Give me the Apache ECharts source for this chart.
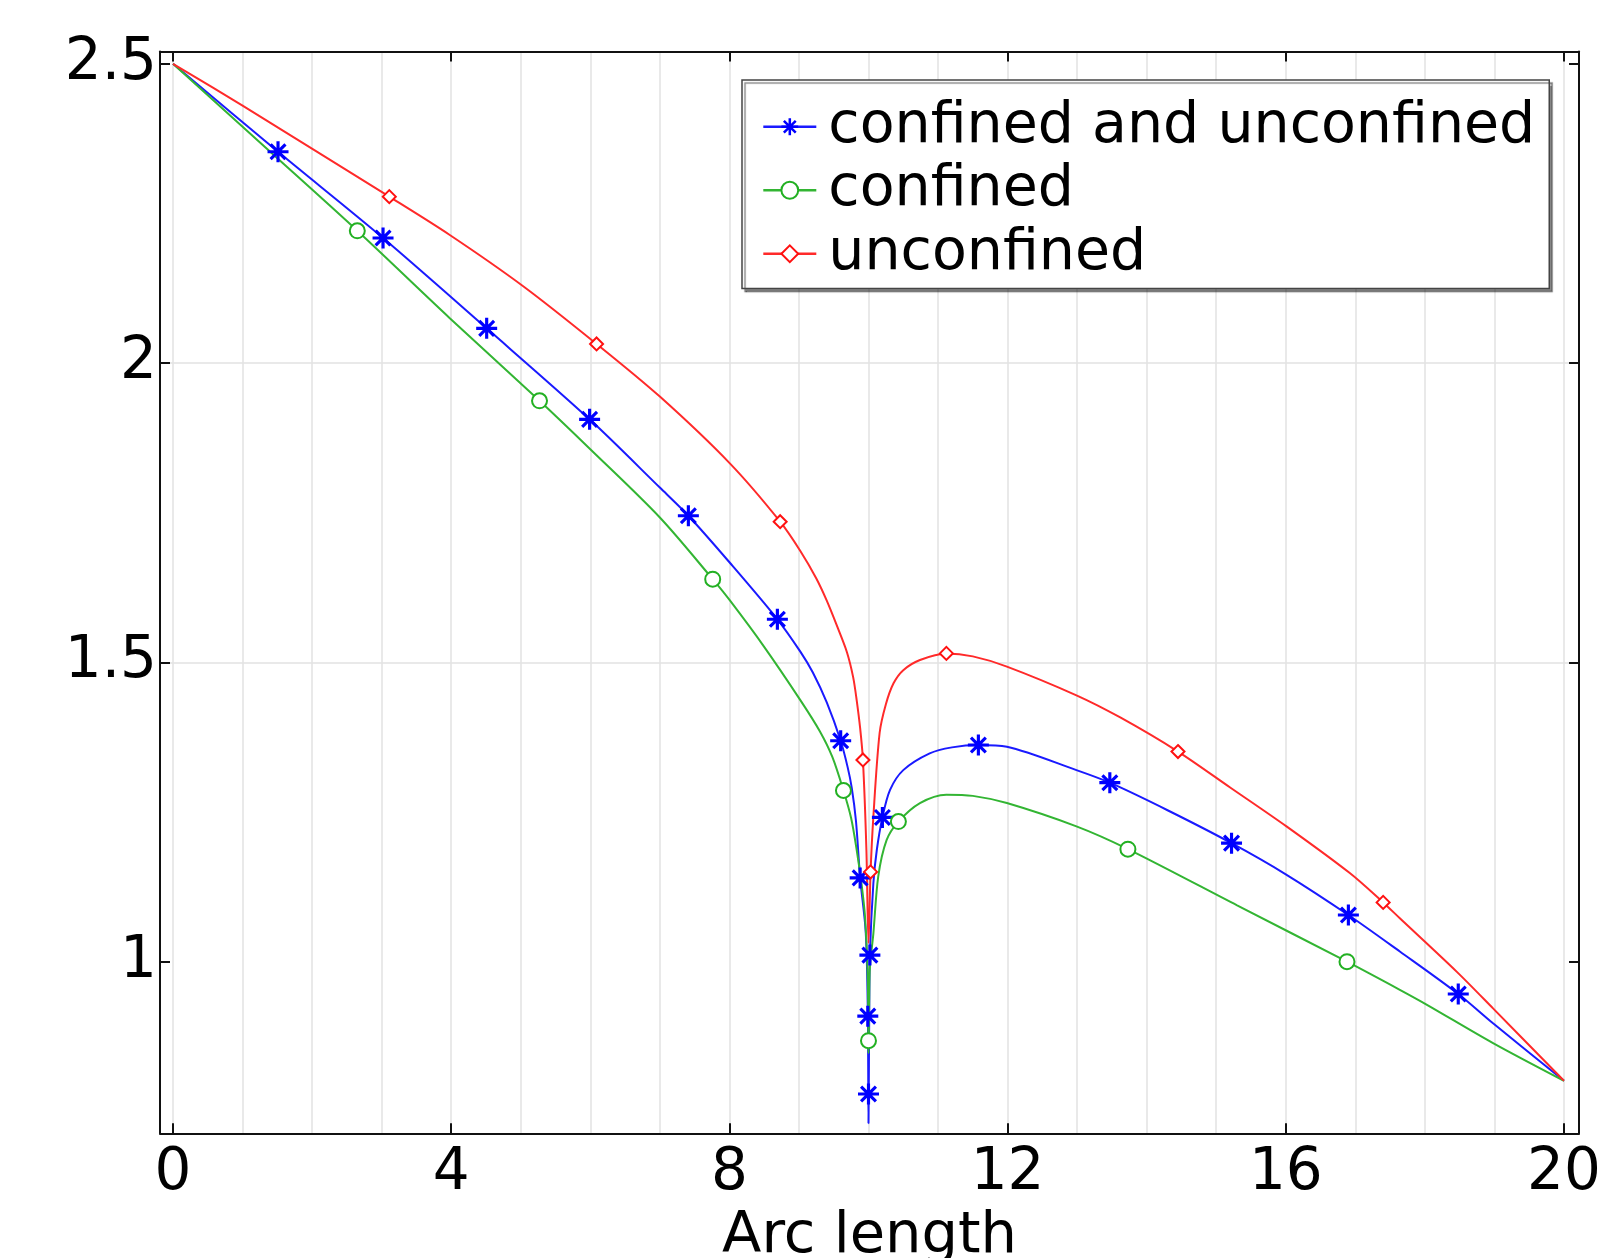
<!DOCTYPE html>
<html>
<head>
<meta charset="utf-8">
<script src="https://cdn.jsdelivr.net/npm/echarts@6/dist/echarts.min.js"></script>
<style>
  html, body { margin: 0; padding: 0; background: #fff; }
  #chart { width: 1621px; height: 1258px; }
</style>
</head>
<body>
<div id="chart"></div>
<script>
// axis ranges (frame is a bit wider than the data)
var X_MIN = -0.187, X_MAX = 20.216;
var Y_MIN = 0.7133, Y_MAX = 2.5205;
var xTicks = [0, 4, 8, 12, 16, 20];
var yTicks = [1, 1.5, 2, 2.5];

var names = ['confined and unconfined', 'confined', 'unconfined'];

// curves
var blueX = [0, 1.51, 3.02, 4.51, 5.99, 7.0, 7.41, 8.01, 8.69, 9.02, 9.20, 9.40, 9.60, 9.70, 9.76, 9.82, 9.88, 9.96, 9.99, 10.0, 10.01, 10.02,
  10.07, 10.12, 10.20, 10.31, 10.50, 10.88, 11.20, 11.58, 11.99, 12.99, 13.47, 14.3, 15.22, 16.0, 16.90, 17.64, 18.48, 18.98, 20];
var blueY = [2.5, 2.353, 2.209, 2.058, 1.906, 1.792, 1.745, 1.666, 1.572, 1.518, 1.483, 1.433, 1.369, 1.325, 1.29, 1.235, 1.140, 1.05, 0.92, 0.73, 0.90, 1.011,
  1.131, 1.187, 1.241, 1.287, 1.320, 1.348, 1.358, 1.362, 1.359, 1.32, 1.299, 1.253, 1.198, 1.146, 1.078, 1.017, 0.946, 0.897, 0.801];

var greenX = [0, 1.33, 2.65, 3.98, 5.27, 6.0, 7.0, 7.76, 8.01, 8.5, 9.02, 9.30, 9.48, 9.64, 9.75, 9.83, 9.90, 9.95, 9.99, 10.0, 10.01, 10.02, 10.07,
  10.14, 10.26, 10.43, 10.74, 11.12, 11.5, 11.99, 12.99, 13.73, 15.3, 16.88, 17.64, 18.03, 18.98, 20];
var greenY = [2.5, 2.36, 2.221, 2.075, 1.937, 1.856, 1.742, 1.639, 1.603, 1.526, 1.437, 1.385, 1.342, 1.286, 1.24, 1.187, 1.13, 1.075, 0.97, 0.847, 0.93, 0.99, 1.047,
  1.142, 1.203, 1.234, 1.265, 1.279, 1.277, 1.265, 1.226, 1.188, 1.094, 1.000, 0.953, 0.928, 0.864, 0.801];

var redX = [0, 1.0, 3.11, 3.98, 5.04, 6.09, 7.0, 8.01, 8.73, 9.02, 9.25, 9.40, 9.55, 9.69, 9.78, 9.83, 9.88, 9.92, 9.97, 10.0, 10.03, 10.07, 10.16,
  10.25, 10.36, 10.5, 10.74, 11.12, 11.5, 11.99, 12.99, 13.62, 14.45, 15.2, 16.01, 16.92, 17.40, 17.64, 18.46, 18.98, 20];
var redY = [2.5, 2.43, 2.278, 2.214, 2.128, 2.032, 1.944, 1.832, 1.735, 1.686, 1.64, 1.603, 1.56, 1.517, 1.475, 1.437, 1.39, 1.337, 1.187, 1.031, 1.150, 1.242, 1.382,
  1.43, 1.465, 1.487, 1.504, 1.515, 1.51, 1.493, 1.445, 1.408, 1.351, 1.291, 1.226, 1.148, 1.099, 1.0725, 0.983, 0.922, 0.801];

// marker positions
var blueMarkX = [1.51, 3.02, 4.51, 5.99, 7.41, 8.69, 9.60, 9.88, 10.02, 9.99, 10.0, 10.20, 11.58, 13.47, 15.22, 16.90, 18.48];
var blueMarkY = [2.353, 2.209, 2.058, 1.906, 1.745, 1.572, 1.369, 1.140, 1.011, 0.909, 0.779, 1.241, 1.362, 1.299, 1.198, 1.078, 0.946];
var greenMarkX = [2.65, 5.27, 7.76, 9.64, 10.0, 10.43, 13.73, 16.88];
var greenMarkY = [2.221, 1.937, 1.639, 1.286, 0.868, 1.234, 1.188, 1.000];
var redMarkX = [3.11, 6.09, 8.73, 9.92, 10.03, 11.12, 14.45, 17.40];
var redMarkY = [2.278, 2.032, 1.735, 1.337, 1.150, 1.515, 1.351, 1.099];

var FONT = 'DejaVu Sans';
// filled 8-spoke asterisk
var STAR = 'path://M0,8.5L20,8.5L20,11.5L0,11.5Z' +
  'M8.5,0L11.5,0L11.5,20L8.5,20Z' +
  'M3.99,1.87L18.13,16.01L16.01,18.13L1.87,3.99Z' +
  'M1.87,16.01L16.01,1.87L18.13,3.99L3.99,18.13Z';

function zip(xs, ys) {
  return xs.map(function (x, i) { return [x, ys[i]]; });
}

var styles = [
  { line: '#1a1aff', mark: '#0000ff', symbol: STAR, size: 21, border: 0 },
  { line: '#33b533', mark: '#22b022', symbol: 'emptyCircle', size: 15, border: 2 },
  { line: '#ff2a2a', mark: '#ff1010', symbol: 'emptyDiamond', size: 13, border: 1.6 }
];
var curves = [[blueX, blueY], [greenX, greenY], [redX, redY]];
var marks = [[blueMarkX, blueMarkY], [greenMarkX, greenMarkY], [redMarkX, redMarkY]];

var series = [];
curves.forEach(function (c, i) {
  var s = styles[i];
  series.push({
    type: 'line', name: names[i], data: zip(c[0], c[1]),
    showSymbol: false, symbol: s.symbol, symbolSize: s.size,
    smooth: 0.3,
    lineStyle: { color: s.line, width: 2 },
    itemStyle: { color: s.mark, borderColor: s.mark, borderWidth: s.border },
    z: 2, silent: true
  });
});
marks.forEach(function (m, i) {
  var s = styles[i];
  series.push({
    type: 'scatter', name: names[i], data: zip(m[0], m[1]),
    symbol: s.symbol, symbolSize: s.size,
    itemStyle: { color: s.mark, borderColor: s.mark, borderWidth: s.border, opacity: 1 },
    z: 3, silent: true
  });
});

var frameLine = { show: true, onZero: false, lineStyle: { color: '#111', width: 2 } };
var tickStyle = { color: '#111', width: 2 };
var labelStyle = { fontFamily: FONT, fontSize: 58, color: '#000' };
var gridLine = { show: true, lineStyle: { color: '#e2e2e2', width: 1.5 }, showMinLine: false, showMaxLine: false };

var option = {
  backgroundColor: '#fff',
  animation: false,
  grid: { left: 160, top: 51.5, width: 1419, height: 1081.8, show: false, outerBoundsMode: 'none', containLabel: false },
  xAxis: [
    {
      type: 'value', min: X_MIN, max: X_MAX, position: 'bottom',
      axisLine: frameLine,
      axisTick: { inside: true, length: 10, customValues: xTicks, lineStyle: tickStyle },
      axisLabel: Object.assign({ customValues: xTicks, margin: 12 }, labelStyle),
      splitLine: { show: false },
      name: 'Arc length', nameLocation: 'middle', nameGap: 61,
      nameTextStyle: { fontFamily: FONT, fontSize: 57.5, color: '#000' }
    },
    {
      type: 'value', min: X_MIN, max: X_MAX, position: 'top',
      axisLine: frameLine,
      axisTick: { inside: true, length: 10, customValues: xTicks, lineStyle: tickStyle },
      axisLabel: { show: false }, splitLine: { show: false }
    },
    {
      // light vertical grid every 1 unit
      type: 'value', min: X_MIN, max: X_MAX, position: 'bottom', splitNumber: 20,
      axisLine: { show: false }, axisTick: { show: false }, axisLabel: { show: false },
      splitLine: gridLine
    }
  ],
  yAxis: [
    {
      type: 'value', min: Y_MIN, max: Y_MAX, position: 'left', splitNumber: 4,
      axisLine: frameLine,
      axisTick: { inside: true, length: 10, customValues: yTicks, lineStyle: tickStyle },
      axisLabel: Object.assign({ customValues: yTicks, margin: 3 }, labelStyle),
      splitLine: gridLine
    },
    {
      type: 'value', min: Y_MIN, max: Y_MAX, position: 'right',
      axisLine: frameLine,
      axisTick: { inside: true, length: 10, customValues: yTicks, lineStyle: tickStyle },
      axisLabel: { show: false }, splitLine: { show: false }
    }
  ],
  legend: {
    data: names,
    orient: 'vertical',
    left: 742, top: 80,
    itemWidth: 53, itemHeight: 21, itemGap: 0,
    padding: [15, 14, 3, 20],
    backgroundColor: '#fff',
    borderColor: '#444', borderWidth: 1.5,
    shadowColor: 'rgba(0,0,0,0.45)', shadowBlur: 1, shadowOffsetX: 3, shadowOffsetY: 3,
    selectedMode: false,
    lineStyle: { width: 2.6 },
    textStyle: { fontFamily: FONT, fontSize: 57, color: '#000', lineHeight: 63.5, padding: [0, 0, 0, 7] }
  },
  series: series
};

var chart = echarts.init(document.getElementById('chart'));
chart.setOption(option);
</script>
</body>
</html>
